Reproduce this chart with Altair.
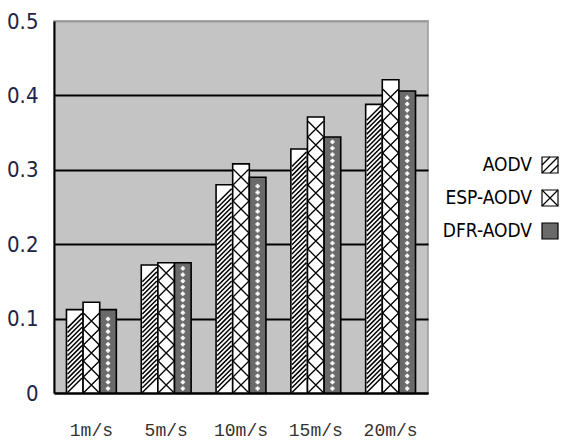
import altair as alt
import pandas as pd

categories = ["1m/s", "5m/s", "10m/s", "15m/s", "20m/s"]
series = ["AODV", "ESP-AODV", "DFR-AODV"]
aodv = [0.112, 0.172, 0.280, 0.328, 0.388]
esp_aodv = [0.122, 0.175, 0.308, 0.371, 0.421]
dfr_aodv = [0.112, 0.175, 0.290, 0.344, 0.406]
y_ticks = [0, 0.1, 0.2, 0.3, 0.4, 0.5]
fills = ["#ffffff", "#ffffff", "#6a6a6a"]

rows = []
for s, vals in zip(series, [aodv, esp_aodv, dfr_aodv]):
    for c, v in zip(categories, vals):
        rows.append({"cat": c, "series": s, "v": v})
df = pd.DataFrame(rows)
leg = pd.DataFrame({"series": series})

W, H = 374, 372
NARROW = "Liberation Sans Narrow, Arial Narrow, DejaVu Sans Condensed, sans-serif"

xscale = alt.Scale(domain=categories, paddingInner=1 / 3, paddingOuter=1 / 6)
xoffscale = alt.Scale(domain=series, paddingInner=0, paddingOuter=0)
yscale = alt.Scale(domain=[0, 0.5], nice=False, zero=True)

x_axis = alt.Axis(title=None, labelAngle=0, labelFont="Liberation Mono",
                  labelFontSize=18, labelColor="#333333", labelPadding=28,
                  ticks=False, domainColor="black", domainWidth=2)
x_main = alt.X("cat:N", scale=xscale, axis=x_axis)
xoff = alt.XOffset("series:N", scale=xoffscale)

y_main = alt.Y(
    "v:Q", scale=yscale,
    axis=alt.Axis(title=None, values=y_ticks, ticks=False, labelPadding=16,
                  labelFont=NARROW, labelFontSize=22, labelColor="#222244",
                  labelExpr="datum.value == 0 ? '0' : format(datum.value, '.1f')",
                  domainColor="black", domainWidth=2,
                  grid=True, gridWidth=2,
                  gridColor={"condition": {"test": "datum.value >= 0.5", "value": "#999999"},
                             "value": "black"}),
)

base = alt.Chart(df)

bars = base.mark_bar(stroke="black", strokeWidth=1.6).encode(
    x=x_main, xOffset=xoff, y=y_main,
    fill=alt.Fill("series:N", scale=alt.Scale(domain=series, range=fills), legend=None),
)

hatch = (
    base.transform_filter(alt.datum.series == "AODV")
    .transform_calculate(k="sequence(0.0105, datum.v - 0.0095, 0.0062)")
    .transform_flatten(["k"])
    .mark_point(shape="M-1,1L1,-1", size=210, stroke="black", strokeWidth=1.5,
                filled=False, opacity=1)
    .encode(x=x_main, xOffset=xoff, y=alt.Y("k:Q", scale=yscale, axis=None))
)

cross = (
    base.transform_filter(alt.datum.series == "ESP-AODV")
    .transform_calculate(k="sequence(0.0108, datum.v - 0.0100, 0.0215)")
    .transform_flatten(["k"])
    .mark_point(shape="M-1,-1L1,1M-1,1L1,-1", size=240, stroke="black", strokeWidth=1.3,
                filled=False, opacity=1)
    .encode(x=x_main, xOffset=xoff, y=alt.Y("k:Q", scale=yscale, axis=None))
)

dots = (
    base.transform_filter(alt.datum.series == "DFR-AODV")
    .transform_calculate(k="sequence(0.006, datum.v - 0.004, 0.0085)")
    .transform_flatten(["k"])
    .mark_point(shape="cross", size=14, fill="white", stroke="white", strokeWidth=0.5,
                filled=True, opacity=1)
    .encode(x=x_main, xOffset=xoff, y=alt.Y("k:Q", scale=yscale, axis=None))
)

ly = alt.Y("series:N", scale=alt.Scale(type="point", domain=series, range=[144, 210], padding=0), axis=None)

leg_text = alt.Chart(leg).mark_text(align="right", baseline="middle", font=NARROW,
                                    fontSize=19, color="black").encode(
    x=alt.value(478), y=ly, text="series:N")

leg_box = alt.Chart(leg).mark_point(shape="square", size=256, stroke="black", strokeWidth=1.2,
                                    filled=True, opacity=1).encode(
    x=alt.value(496), y=ly,
    fill=alt.Fill("series:N", scale=alt.Scale(domain=series, range=fills), legend=None),
    stroke=alt.value("black"))

leg_hatch = alt.Chart(leg).transform_filter(alt.datum.series == "AODV").mark_point(
    shape="M-1,0L0,-1M-1,1L1,-1M0,1L1,0", size=256, stroke="black", strokeWidth=1.3,
    filled=False, opacity=1).encode(x=alt.value(496), y=ly)

leg_cross = alt.Chart(leg).transform_filter(alt.datum.series == "ESP-AODV").mark_point(
    shape="M-1,-1L1,1M-1,1L1,-1", size=256, stroke="black", strokeWidth=1.2,
    filled=False, opacity=1).encode(x=alt.value(496), y=ly)

chart = (
    alt.layer(bars, hatch, cross, dots, leg_box, leg_hatch, leg_cross, leg_text)
    .resolve_scale(y="independent")
    .properties(width=W, height=H,
                autosize=alt.AutoSizeParams(type="none"),
                padding={"left": 54, "top": 21, "right": 133, "bottom": 53},
                background="white")
    .configure_view(fill="#c4c4c4", stroke="#999999", strokeWidth=1.5)
)

chart.save("out.html", embed_options={"renderer": "svg", "actions": False})
